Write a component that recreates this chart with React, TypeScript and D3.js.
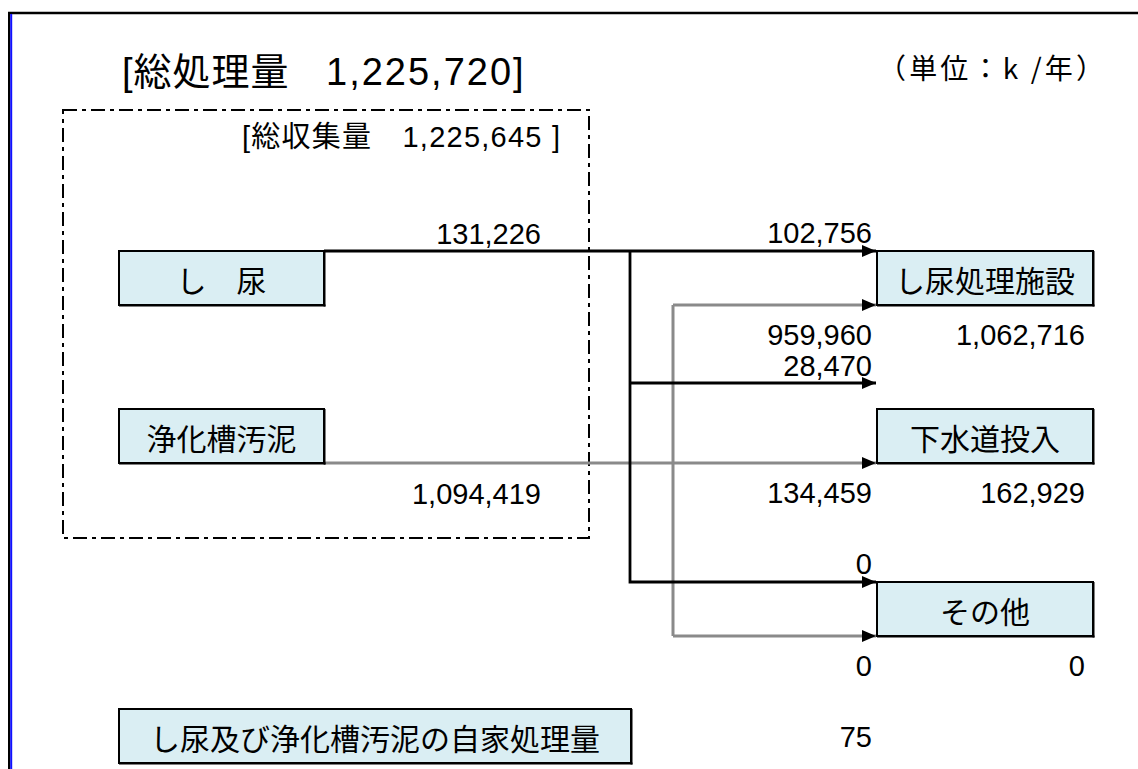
import React from 'react';
import * as d3 from 'd3';

// ---- data ----
const totalProcessed = 1225720;
const totalCollected = 1225645;
const sourceNames = ['し　尿', '浄化槽汚泥'];
const sourceValues = [131226, 1094419];
const destNames = ['し尿処理施設', '下水道投入', 'その他'];
const fromNightSoil = [102756, 28470, 0];
const fromSludge = [959960, 134459, 0];
const destTotals = [1062716, 162929, 0];
const selfLabel = 'し尿及び浄化槽汚泥の自家処理量';
const selfValue = 75;
const unitLabel = '（単位：k /年）';

// ---- layout ----
const W = 1138;
const H = 769;
const boxH = 54;
const srcX = d3.scaleOrdinal<string, number>().domain(['left', 'right']).range([119, 324]);
const dstX = d3.scaleOrdinal<string, number>().domain(['left', 'right']).range([877, 1093]);
const srcTop = d3.scaleOrdinal<string, number>().domain(sourceNames).range([251, 409]);
const dstTop = d3.scaleOrdinal<string, number>().domain(destNames).range([251, 409, 582]);
const blackArrowY = d3.scaleOrdinal<string, number>().domain(destNames).range([251, 383, 582]);
const topLabelGap = d3.scaleOrdinal<string, number>().domain(destNames).range([8, 7, 8]);
const trunkBlackX = 630;
const trunkGrayX = 673;
const tipX = 876;
const numRightInner = 872;
const numRightOuter = 1085;

const fmt = d3.format(',');
const NUM_FONT = "'Liberation Sans', Arial, 'Noto Sans CJK JP', sans-serif";
const JP_FONT = "'Noto Sans CJK JP', 'Noto Sans CJK SC', sans-serif";
const FILL = '#DAEEF3';
const GRAY = '#8a8a8a';

function Box({ x0, x1, y, label, fontSize = 30 }: { x0: number; x1: number; y: number; label: string; fontSize?: number }) {
  return (
    <g>
      <rect x={x0} y={y} width={x1 - x0} height={boxH} fill={FILL} stroke="#000" strokeWidth={2} />
      <line x1={x1 + 0.5} y1={y} x2={x1 + 0.5} y2={y + boxH + 1.5} stroke="#000" strokeWidth={2} />
      <line x1={x0} y1={y + boxH + 0.5} x2={x1 + 1.5} y2={y + boxH + 0.5} stroke="#000" strokeWidth={2} />
      <text
        x={(x0 + x1) / 2}
        y={y + boxH / 2 + 1}
        textAnchor="middle"
        dominantBaseline="central"
        fontFamily={JP_FONT}
        fontSize={fontSize}
        fill="#000"
      >
        {label}
      </text>
    </g>
  );
}

function Num({ x, y, v }: { x: number; y: number; v: number }) {
  return (
    <text x={x} y={y} textAnchor="end" fontFamily={NUM_FONT} fontSize={29} fill="#000">
      {fmt(v)}
    </text>
  );
}

export default function App() {
  const line = d3.line<[number, number]>();
  const shinyoY = srcTop(sourceNames[0]);
  const sludgeY = srcTop(sourceNames[1]) + boxH;
  const lastDest = destNames[destNames.length - 1];

  const blackPaths: string[] = [
    line([[srcX('right'), shinyoY], [tipX, shinyoY]])!,
    line([[trunkBlackX, shinyoY], [trunkBlackX, blackArrowY(lastDest)], [tipX, blackArrowY(lastDest)]])!,
    line([[trunkBlackX, blackArrowY(destNames[1])], [tipX, blackArrowY(destNames[1])]])!,
  ];
  const grayTop = dstTop(destNames[0]) + boxH;
  const grayBottom = dstTop(lastDest) + boxH;
  const grayPaths: string[] = [
    line([[srcX('right'), sludgeY], [tipX, sludgeY]])!,
    line([[trunkGrayX, grayTop], [trunkGrayX, grayBottom]])!,
    line([[trunkGrayX, grayTop], [tipX, grayTop]])!,
    line([[trunkGrayX, grayBottom], [tipX, grayBottom]])!,
  ];

  return (
    <svg
      width={W}
      height={H}
      viewBox={`0 0 ${W} ${H}`}
      style={{ position: 'absolute', left: 0, top: 0, display: 'block', background: '#fff' }}
    >
      <defs>
        <marker id="ah" markerUnits="userSpaceOnUse" markerWidth={14} markerHeight={12} refX={14} refY={6} orient="auto">
          <path d="M0,0 L14,6 L0,12 Z" fill="#000" />
        </marker>
      </defs>

      {/* frame */}
      <line x1={8} y1={13} x2={W} y2={13} stroke="#000" strokeWidth={2.5} />
      <rect x={8} y={12} width={2.2} height={H - 12} fill="#000" />
      <rect x={10.2} y={14} width={2} height={H - 14} fill="#1010ff" />

      {/* title */}
      <text y={85} fontFamily={NUM_FONT} fontSize={38} fill="#000">
        <tspan x={122} letterSpacing={1}>[総処理量</tspan>
        <tspan x={326} letterSpacing={2}>{fmt(totalProcessed)}]</tspan>
      </text>
      <text x={878} y={79} fontFamily={JP_FONT} fontSize={28} fill="#000" textLength={226} lengthAdjust="spacing">
        {unitLabel}
      </text>

      {/* collection box */}
      <rect x={63} y={110} width={589 - 63} height={538 - 110} fill="none" stroke="#000" strokeWidth={2} strokeDasharray="14 5 4 5" />
      <text x={242} y={147} fontFamily={NUM_FONT} fontSize={29} fill="#000" textLength={318} lengthAdjust="spacing">
        [総収集量　{fmt(totalCollected)} ]
      </text>

      {/* flows */}
      {grayPaths.map((d, i) => (
        <path key={'g' + i} d={d} fill="none" stroke={GRAY} strokeWidth={3} markerEnd={i === 1 ? undefined : 'url(#ah)'} />
      ))}
      {blackPaths.map((d, i) => (
        <path key={'b' + i} d={d} fill="none" stroke="#000" strokeWidth={2.8} markerEnd="url(#ah)" />
      ))}

      {/* source boxes */}
      {sourceNames.map((n) => (
        <Box key={n} x0={srcX('left')} x1={srcX('right')} y={srcTop(n)} label={n} />
      ))}
      <Num x={541} y={244} v={sourceValues[0]} />
      <Num x={541} y={504} v={sourceValues[1]} />

      {/* destination boxes */}
      {destNames.map((n, i) => (
        <g key={n}>
          <Box x0={dstX('left')} x1={dstX('right')} y={dstTop(n)} label={n} />
          <Num x={numRightInner} y={blackArrowY(n) - topLabelGap(n)} v={fromNightSoil[i]} />
          <Num x={numRightInner} y={dstTop(n) + boxH + 40} v={fromSludge[i]} />
          <Num x={numRightOuter} y={dstTop(n) + boxH + 40} v={destTotals[i]} />
        </g>
      ))}

      {/* self processing */}
      <Box x0={119} x1={631} y={709} label={selfLabel} />
      <Num x={numRightInner} y={747} v={selfValue} />
    </svg>
  );
}
